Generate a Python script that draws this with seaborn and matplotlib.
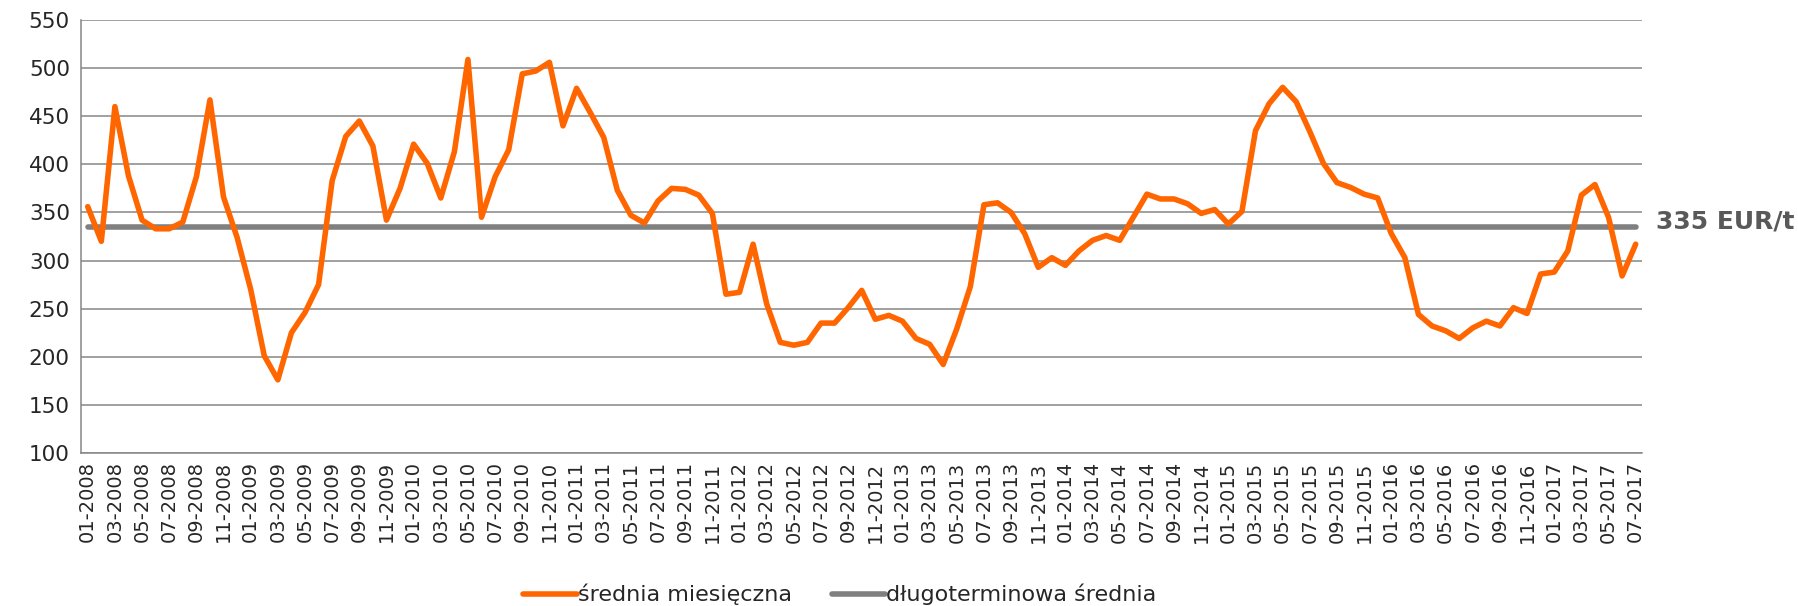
import pandas as pd
import matplotlib
matplotlib.use("Agg")
import matplotlib.pyplot as plt
import seaborn as sns

sns.set_style("white")
plt.rcParams['font.family'] = ['DejaVu Sans']

# monthly values EUR/t, 01-2008 .. 07-2017
monthly = [356, 320, 460, 388, 342, 333, 333, 340, 387, 467, 366, 324,
           270, 201, 176, 225, 246, 275, 383, 429, 445, 419, 342, 375,
           421, 401, 365, 413, 509, 345, 387, 415, 494, 497, 506, 440,
           479, 454, 428, 373, 347, 339, 362, 375, 374, 368, 349, 265,
           267, 317, 255, 215, 212, 215, 235, 235, 251, 269, 239, 243,
           237, 219, 213, 192, 229, 273, 358, 360, 350, 328, 293, 303,
           295, 310, 321, 326, 321, 345, 369, 364, 364, 359, 349, 353,
           338, 351, 435, 463, 480, 465, 434, 401, 381, 376, 369, 365,
           328, 303, 244, 232, 227, 219, 230, 237, 232, 251, 245, 286,
           288, 310, 368, 379, 345, 284, 317]
long_term = 335
months = pd.date_range("2008-01-01", periods=len(monthly), freq="MS").strftime("%m-%Y")

df = pd.DataFrame({"idx": range(len(monthly)), "month": months,
                   "monthly": monthly, "long_term": long_term})

fig = plt.figure(figsize=(17.99, 6.06), dpi=100)
ax = fig.add_axes([0.045, 0.2525, 0.868, 0.7145])

sns.lineplot(data=df, x="idx", y="monthly", ax=ax, color="#FF6600", linewidth=4,
             label="średnia miesięczna", zorder=3)
sns.lineplot(data=df, x="idx", y="long_term", ax=ax, color="#808080", linewidth=4,
             label="długoterminowa średnia", zorder=2, solid_capstyle="round")

ax.set_xlim(-0.5, len(monthly) - 0.5)
ax.set_ylim(100, 550)
ax.set_yticks(range(100, 551, 50))
ax.set_xticks(df["idx"][::2])
ax.set_xticklabels(df["month"][::2], rotation=90, fontsize=14)
ax.tick_params(axis="y", labelsize=15.5, length=0, pad=8)
ax.tick_params(axis="x", length=0, pad=6)
ax.set_xlabel("")
ax.set_ylabel("")
ax.grid(axis="y", color="#868686", linewidth=1.1)
for s in ["top", "right"]:
    ax.spines[s].set_visible(False)
for s in ["left", "bottom"]:
    ax.spines[s].set_color("#868686")
    ax.spines[s].set_linewidth(1.1)

fig.text(0.9205, 0.6345, "335 EUR/t", fontsize=18, fontweight="bold", color="#595959",
         va="center", ha="left")

ax.legend(loc="center", bbox_to_anchor=(0.486, -0.327), ncol=2, frameon=False,
          fontsize=16, handlelength=2.4, handletextpad=0.05, columnspacing=1.8)

fig.savefig("out.png", dpi=100)
